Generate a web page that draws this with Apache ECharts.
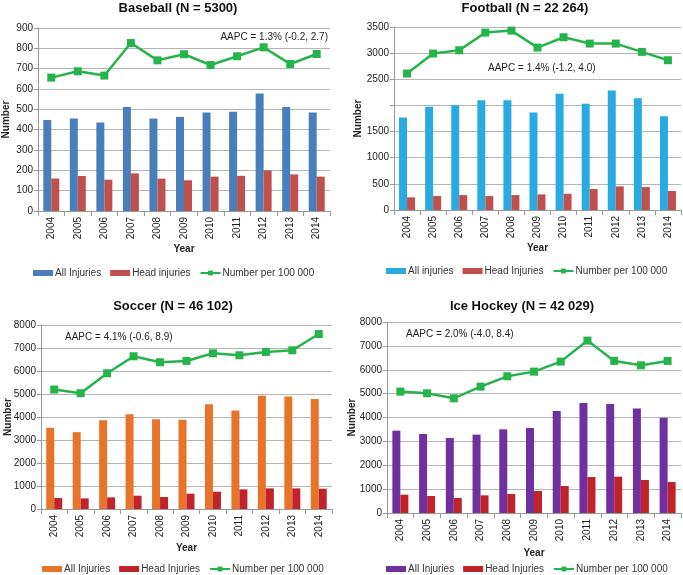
<!DOCTYPE html>
<html>
<head>
<meta charset="utf-8">
<title>Sport injuries 2004-2014</title>
<script src="https://cdn.jsdelivr.net/npm/echarts@6/dist/echarts.min.js"></script>
<style>
  body { margin: 0; background: #fff; }
  .panel { position: absolute; }
</style>
</head>
<body>
<div id="baseball" class="panel" style="left:0;top:0;width:340px;height:290px"></div>
<div id="football" class="panel" style="left:340px;top:0;width:343px;height:290px"></div>
<div id="soccer" class="panel" style="left:0;top:290px;width:340px;height:285px"></div>
<div id="hockey" class="panel" style="left:340px;top:290px;width:343px;height:285px"></div>
<script>
var years = ['2004','2005','2006','2007','2008','2009','2010','2011','2012','2013','2014'];

// baseball
var baseballAll  = [447, 455, 435, 512, 455, 463, 484, 488, 578, 511, 484];
var baseballHead = [160, 172, 154, 185, 159, 151, 169, 173, 200, 180, 169];
var baseballRate = [656, 687, 666, 826, 741, 771, 718, 761, 805, 723, 772];

// football
var footballAll  = [1770, 1973, 2005, 2100, 2100, 1865, 2221, 2031, 2285, 2139, 1795];
var footballHead = [242, 267, 286, 267, 286, 299, 312, 401, 452, 439, 363];
var footballRate = [2610, 2992, 3055, 3393, 3431, 3106, 3304, 3183, 3183, 3024, 2864];

// soccer
var soccerAll  = [3530, 3342, 3863, 4123, 3906, 3877, 4557, 4282, 4919, 4890, 4788];
var soccerHead = [477, 463, 506, 579, 521, 665, 752, 854, 897, 897, 882];
var soccerRate = [5193, 5034, 5902, 6640, 6380, 6438, 6770, 6684, 6828, 6900, 7609];

// ice hockey
var hockeyAll  = [3449, 3310, 3142, 3282, 3505, 3561, 4274, 4609, 4567, 4372, 3994];
var hockeyHead = [768, 712, 628, 740, 796, 922, 1131, 1508, 1522, 1383, 1299];
var hockeyRate = [5084, 5014, 4804, 5293, 5726, 5922, 6341, 7221, 6369, 6187, 6369];

var green = '#27b34b';
var txt = '#222';
var font = 'Liberation Sans, Arial, sans-serif';

function makeOption(p) {
  var g = p.grid;
  g.containLabel = false;
  g.outerBoundsMode = 'none';
  return {
    animation: false,
    textStyle: { fontFamily: font },
    title: {
      text: p.title, left: p.titleX, top: p.titleTop, textAlign: 'center', padding: 0,
      textStyle: { fontSize: 13, fontWeight: 'bold', color: '#111' }
    },
    grid: g,
    legend: {
      left: p.legendLeft, top: p.legendTop, width: 330, padding: 0,
      itemWidth: 20, itemHeight: 6, itemGap: 9,
      textStyle: { fontSize: 10, color: '#333', padding: [0, 0, 0, -3] },
      data: [
        { name: p.names[0], icon: 'rect' },
        { name: p.names[1], icon: 'rect' },
        { name: p.names[2] }
      ]
    },
    graphic: [{
      type: 'text', left: p.noteLeft, right: p.noteRight, top: p.noteTop,
      style: { text: p.note, fontSize: 10, fill: '#222', fontFamily: font }
    }],
    xAxis: {
      type: 'category', data: years,
      name: 'Year', nameLocation: 'middle', nameGap: p.xGap, nameMoveOverlap: false,
      nameTextStyle: { fontWeight: 'bold', fontSize: 10, color: txt },
      axisLine: { lineStyle: { color: '#999' } },
      axisTick: { show: true, length: 5, lineStyle: { color: '#999' } },
      axisLabel: { rotate: 90, fontSize: 10, color: txt, margin: 6 }
    },
    yAxis: {
      type: 'value', min: 0, max: p.max, interval: p.interval,
      name: 'Number', nameLocation: 'middle', nameGap: p.nameGap, nameRotate: 90,
      nameMoveOverlap: false,
      nameTextStyle: { fontWeight: 'bold', fontSize: 10, color: txt },
      axisLine: { show: true, lineStyle: { color: '#999' } },
      axisTick: { show: true, length: 4, lineStyle: { color: '#999' } },
      axisLabel: { fontSize: 10, color: txt, margin: 5, formatter: p.labelFmt || function (v) { return String(v); } },
      splitLine: { lineStyle: { color: '#b5b5b5', width: 1 } }
    },
    series: [
      { name: p.names[0], type: 'bar', data: p.all, barWidth: 8, barGap: '0%',
        itemStyle: { color: p.colors[0] } },
      { name: p.names[1], type: 'bar', data: p.head, barWidth: 8, barGap: '0%',
        itemStyle: { color: p.colors[1] } },
      { name: p.names[2], type: 'line', data: p.rate, symbol: 'rect', symbolSize: 8,
        lineStyle: { color: green, width: 2.5 }, itemStyle: { color: green } }
    ]
  };
}

echarts.init(document.getElementById('baseball')).setOption(makeOption({
  title: 'Baseball (N = 5300)', titleX: 178, titleTop: 2,
  grid: { left: 38, right: 10, top: 28, bottom: 79 },
  legendLeft: 33, legendTop: 268, xGap: 33,
  names: ['All Injuries', 'Head injuries', 'Number per 100 000'],
  colors: ['#4a7ebb', '#c0504d'],
  note: 'AAPC = 1.3% (-0.2, 2.7)', noteRight: 12, noteTop: 32,
  max: 900, interval: 100, nameGap: 27,
  all: baseballAll, head: baseballHead, rate: baseballRate
}));

echarts.init(document.getElementById('football')).setOption(makeOption({
  title: 'Football (N = 22 264)', titleX: 185, titleTop: 2,
  grid: { left: 54, right: 2, top: 27, bottom: 80 },
  legendLeft: 46, legendTop: 266, xGap: 33,
  names: ['All injuries', 'Head Injuries', 'Number per 100 000'],
  colors: ['#29abe2', '#c0504d'],
  note: 'AAPC = 1.4% (-1.2, 4.0)', noteLeft: 148, noteTop: 63,
  max: 3500, interval: 500, nameGap: 31,
  labelFmt: function (v) { return v === 2000 ? '' : String(v); },
  all: footballAll, head: footballHead, rate: footballRate
}));

echarts.init(document.getElementById('soccer')).setOption(makeOption({
  title: 'Soccer (N = 46 102)', titleX: 173, titleTop: 10,
  grid: { left: 41, right: 8, top: 35, bottom: 66 },
  legendLeft: 42, legendTop: 274, xGap: 34,
  names: ['All Injuries', 'Head Injuries', 'Number per 100 000'],
  colors: ['#e8732a', '#c1232b'],
  note: 'AAPC = 4.1% (-0.6, 8.9)', noteLeft: 65, noteTop: 42,
  max: 8000, interval: 1000, nameGap: 28,
  all: soccerAll, head: soccerHead, rate: soccerRate
}));

echarts.init(document.getElementById('hockey')).setOption(makeOption({
  title: 'Ice Hockey (N = 42 029)', titleX: 182, titleTop: 10,
  grid: { left: 47, right: 2, top: 32, bottom: 62 },
  legendLeft: 46, legendTop: 274, xGap: 35,
  names: ['All Injuries', 'Head Injuries', 'Number per 100 000'],
  colors: ['#7030a0', '#c1232b'],
  note: 'AAPC = 2.0% (-4.0, 8.4)', noteLeft: 66, noteTop: 39,
  max: 8000, interval: 1000, nameGap: 30,
  all: hockeyAll, head: hockeyHead, rate: hockeyRate
}));
</script>
</body>
</html>
